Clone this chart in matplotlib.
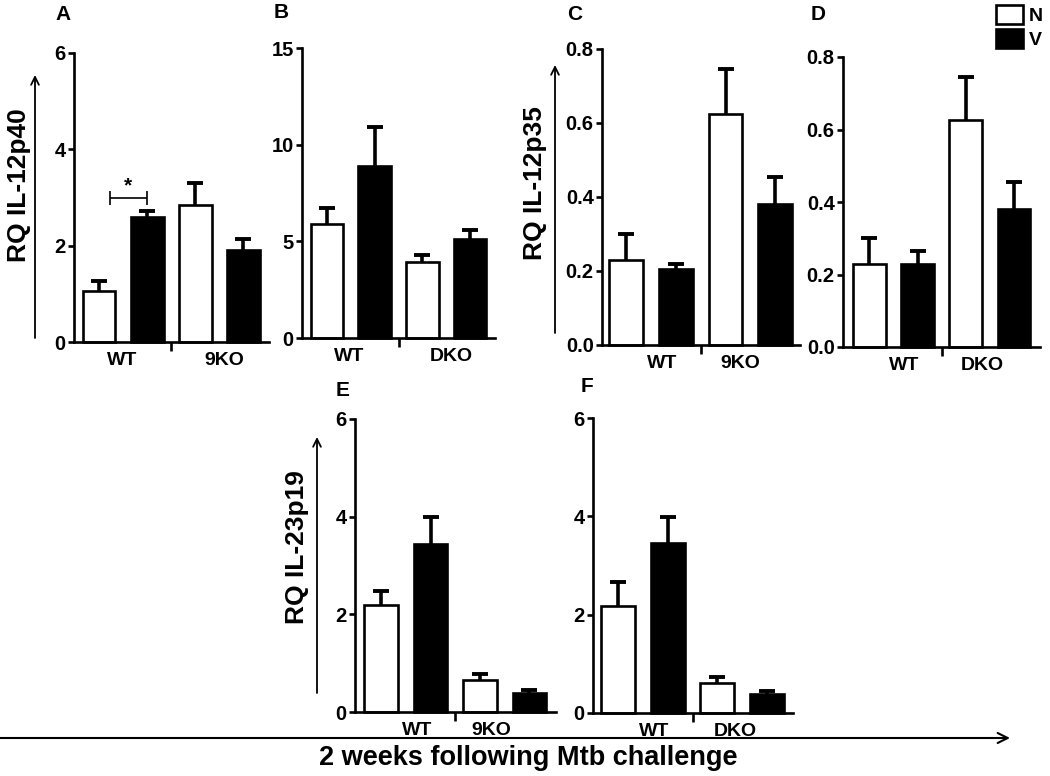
import matplotlib.pyplot as plt
from matplotlib.patches import Patch

plt.rcParams["font.family"] = ["Liberation Sans", "DejaVu Sans"]
plt.rcParams["font.weight"] = "bold"

W, H = 1050, 776

# bar order in every panel: group 1 N, group 1 V, group 2 N, group 2 V
series = ["N", "V"]

a_groups = ["WT", "9KO"]
a_mean = [1.05, 2.6, 2.85, 1.92]
a_err = [0.22, 0.12, 0.45, 0.22]

b_groups = ["WT", "DKO"]
b_mean = [5.9, 8.9, 3.95, 5.1]
b_err = [0.8, 2.0, 0.35, 0.5]

c_groups = ["WT", "9KO"]
c_mean = [0.23, 0.205, 0.625, 0.38]
c_err = [0.07, 0.015, 0.12, 0.075]

d_groups = ["WT", "DKO"]
d_mean = [0.23, 0.23, 0.625, 0.38]
d_err = [0.07, 0.035, 0.12, 0.075]

e_groups = ["WT", "9KO"]
e_mean = [2.2, 3.45, 0.65, 0.38]
e_err = [0.28, 0.55, 0.12, 0.08]

f_groups = ["WT", "DKO"]
f_mean = [2.17, 3.45, 0.62, 0.38]
f_err = [0.5, 0.53, 0.12, 0.07]

face = ["white", "black", "white", "black"]


def px_rect(x0, y_top, x1, y_bot):
    return [x0 / W, 1 - y_bot / H, (x1 - x0) / W, (y_bot - y_top) / H]


def panel(rect, mean, err, groups, yticks, fmt, xlim, label_x, letter, letter_xy):
    ax = fig.add_axes(px_rect(*rect))
    x = list(range(len(mean)))
    ax.bar(x, mean, width=0.68, color=face, edgecolor="black",
           linewidth=1.9, zorder=2, clip_on=False)
    eb = ax.errorbar(x, mean, yerr=[[0] * len(err), err], fmt="none",
                     ecolor="black", elinewidth=2.6, capsize=6, capthick=2.8,
                     zorder=3, clip_on=False)
    # only the upper cap, as in GraphPad
    eb[1][0].set_visible(False)
    ax.set_xlim(*xlim)
    ax.set_ylim(yticks[0], yticks[-1])
    ax.set_yticks(yticks)
    ax.yaxis.set_major_formatter(fmt)
    ax.set_xticks([1.5])
    ax.set_xticklabels([""])
    for s in ["top", "right"]:
        ax.spines[s].set_visible(False)
    for s in ["left", "bottom"]:
        ax.spines[s].set_linewidth(1.9)
    ax.tick_params(axis="y", length=4.5, width=1.9, pad=1.5, labelsize=14.5)
    ax.tick_params(axis="x", length=6.5, width=1.9)
    for g, lx in zip(groups, label_x):
        ax.annotate(g, xy=(lx, 0), xycoords=("data", "axes fraction"),
                    xytext=(0, -13), textcoords="offset points",
                    ha="center", va="center", fontsize=14)
    fig.text(letter_xy[0] / W, 1 - letter_xy[1] / H, letter,
             ha="center", va="center", fontsize=15)
    return ax


def ylabel_arrow(text, tx, ty, ax_x, y0, y1):
    fig.text(tx / W, 1 - ty / H, text, rotation=90, ha="center",
             va="center", fontsize=19)
    fig.add_artist(plt.Annotation(
        "", xy=(ax_x / W, 1 - y1 / H), xytext=(ax_x / W, 1 - y0 / H),
        xycoords="figure fraction", textcoords="figure fraction",
        arrowprops=dict(arrowstyle="->", lw=1.3, color="black",
                        mutation_scale=14, shrinkA=0, shrinkB=0)))


fig = plt.figure(figsize=(W / 100, H / 100), dpi=100)

ax_a = panel((74, 53, 269, 342), a_mean, a_err, a_groups, [0, 2, 4, 6],
             "{x:.0f}", (-0.52, 3.53), [0.48, 2.61], "A", (63, 15))
# significance bracket between WT N and WT V
ax_a.errorbar([0.615], [2.98], xerr=[[0.385]], fmt="none", ecolor="black",
              elinewidth=1.2, capsize=5, capthick=1.2)
ax_a.text(0.6, 3.24, "*", ha="center", va="center", fontsize=15)

panel((302, 48, 495, 338), b_mean, b_err, b_groups, [0, 5, 10, 15],
      "{x:.0f}", (-0.52, 3.52), [0.46, 2.6], "B", (281, 13))
panel((602, 49, 800, 345), c_mean, c_err, c_groups, [0, 0.2, 0.4, 0.6, 0.8],
      "{x:.1f}", (-0.49, 3.5), [0.72, 2.29], "C", (575, 15))
panel((843, 57, 1040, 347), d_mean, d_err, d_groups, [0, 0.2, 0.4, 0.6, 0.8],
      "{x:.1f}", (-0.55, 3.54), [0.73, 2.35], "D", (818, 15))
panel((355, 419, 556, 712), e_mean, e_err, e_groups, [0, 2, 4, 6],
      "{x:.0f}", (-0.53, 3.54), [0.73, 2.24], "E", (343, 390))
panel((593, 418, 793, 713), f_mean, f_err, f_groups, [0, 2, 4, 6],
      "{x:.0f}", (-0.51, 3.53), [0.73, 2.36], "F", (587, 387))

ylabel_arrow("RQ IL-12p40", 19, 185, 35, 338, 75)
ylabel_arrow("RQ IL-12p35", 535, 183, 555, 333, 65)
ylabel_arrow("RQ IL-23p19", 297, 547, 317, 693, 437)

# time axis along the bottom
fig.add_artist(plt.Annotation(
    "", xy=(1010 / W, 1 - 738 / H), xytext=(0, 1 - 738 / H),
    xycoords="figure fraction", textcoords="figure fraction",
    arrowprops=dict(arrowstyle="->", lw=1.5, color="black",
                    mutation_scale=18, shrinkA=0, shrinkB=0)))
fig.text(528 / W, 1 - 758 / H, "2 weeks following Mtb challenge",
         ha="center", va="center", fontsize=19.5)

handles = [Patch(facecolor=c, edgecolor="black", linewidth=1.9)
           for c in ["white", "black"]]
fig.legend(handles, series, loc="upper left",
           bbox_to_anchor=(996 / W, 1 - 5 / H), frameon=False,
           fontsize=14, handlelength=1.4, handleheight=1.15,
           handletextpad=0.3, labelspacing=0.2, borderpad=0,
           borderaxespad=0)

fig.savefig("out.png", dpi=100)
